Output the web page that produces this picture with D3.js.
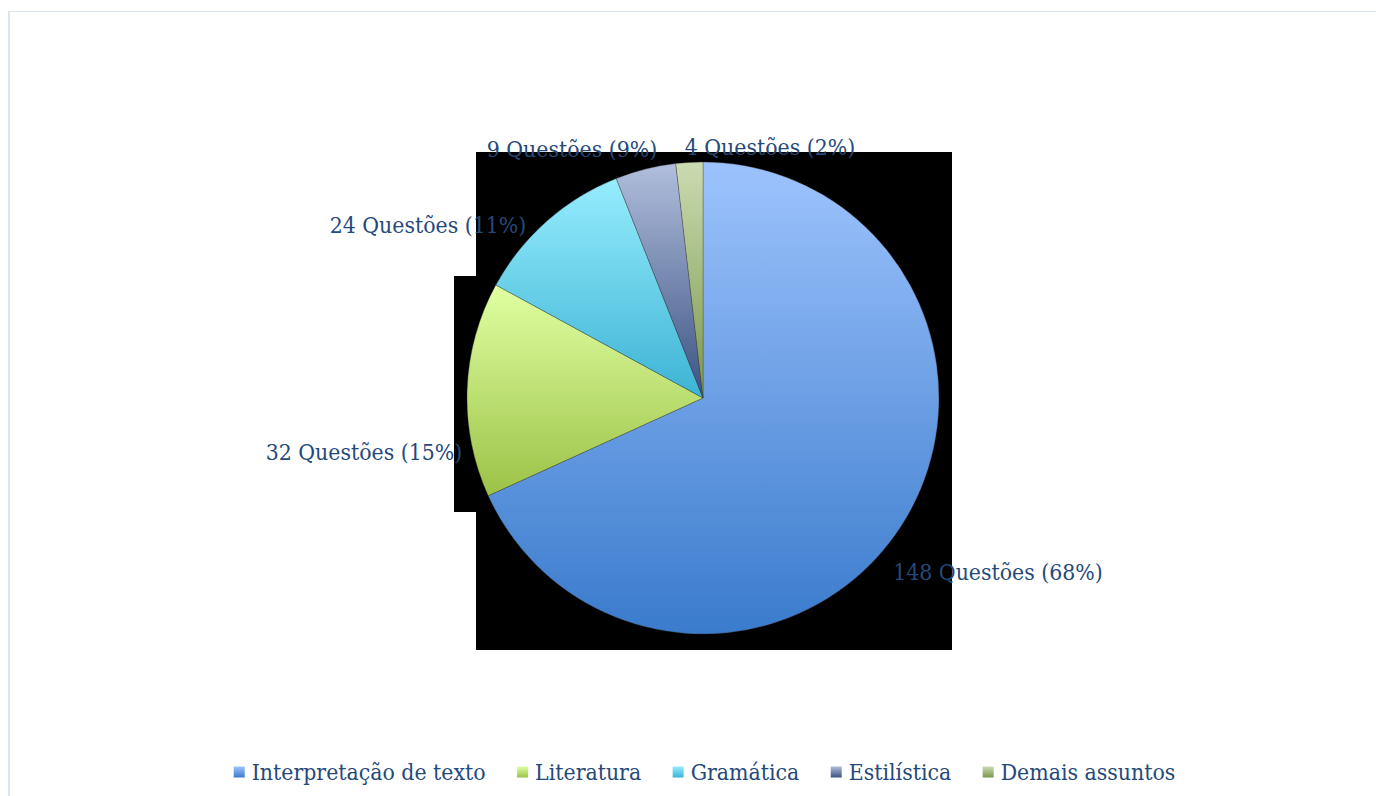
<!DOCTYPE html>
<html>
<head>
<meta charset="utf-8">
<script src="https://cdn.jsdelivr.net/npm/d3@7"></script>
<style>
  html, body { margin: 0; padding: 0; background: #fff; }
  #chart { width: 1376px; height: 796px; }
  .lbl { font-family: "DejaVu Serif Condensed", "DejaVu Serif", serif; font-stretch: condensed; fill: #25497a; }
</style>
</head>
<body>
<div id="chart"></div>
<script>
// data
const categories = ["Interpretação de texto", "Literatura", "Gramática", "Estilística", "Demais assuntos"];
const questions = [148, 32, 24, 9, 4];
const percentLabels = ["68%", "15%", "11%", "9%", "2%"];
const topColors = ["#9dc3fd", "#e0ffa2", "#96edfe", "#b1bedc", "#cbdbb2"];
const bottomColors = ["#3a7bcc", "#9cc247", "#3db3d4", "#3c5283", "#7a984c"];

window.addEventListener("load", function () {

    const width = 1376, height = 796;
    const cx = 703, cy = 398, radius = 236;
    const fontSize = 22.8;

    const svg = d3.select("#chart").append("svg")
        .attr("width", width)
        .attr("height", height);

    // chart area frame (left + top edge only visible)
    svg.append("line").attr("x1", 9).attr("x2", 9).attr("y1", 11).attr("y2", height)
        .attr("stroke", "#dbe4ef").attr("stroke-width", 2);
    svg.append("line").attr("x1", 8).attr("x2", width).attr("y1", 11.5).attr("y2", 11.5)
        .attr("stroke", "#dde5ec").attr("stroke-width", 1);

    const g = svg.append("g").attr("transform", `translate(${cx},${cy})`);

    // black background blocks behind the pie (as rendered in the original)
    g.append("rect").attr("x", -249).attr("y", -122)
        .attr("width", 24).attr("height", 236).attr("fill", "#000");
    g.append("rect").attr("x", -227).attr("y", -246)
        .attr("width", 476).attr("height", 498).attr("fill", "#000");

    const defs = svg.append("defs");
    categories.forEach((c, i) => {
        const grad = defs.append("linearGradient")
            .attr("id", "grad" + i)
            .attr("x1", 0).attr("y1", 0).attr("x2", 0).attr("y2", 1);
        grad.append("stop").attr("offset", "0%").attr("stop-color", topColors[i]);
        grad.append("stop").attr("offset", "100%").attr("stop-color", bottomColors[i]);
    });

    const pie = d3.pie().sort(null).value(d => d);
    const arcs = pie(questions);
    const arc = d3.arc().innerRadius(0).outerRadius(radius);

    g.selectAll(".slice")
        .data(arcs)
        .enter()
        .append("path")
        .attr("class", "slice")
        .attr("d", arc)
        .attr("fill", (d, i) => `url(#grad${i})`)
        .attr("stroke", "rgba(60,60,60,0.45)")
        .attr("stroke-width", 0.75);

    // label placement relative to pie centre (Excel best-fit positions)
    const labelOffset = [[295, 182], [-339, 62], [-275, -165], [-131, -241], [67, -243]];

    g.selectAll(".lbl")
        .data(arcs)
        .enter()
        .append("text")
        .attr("class", "lbl")
        .attr("font-size", fontSize)
        .attr("text-anchor", "middle")
        .attr("x", (d, i) => labelOffset[i][0])
        .attr("y", (d, i) => labelOffset[i][1])
        .text((d, i) => `${questions[i]} Questões (${percentLabels[i]})`);

    // legend
    const legend = svg.append("g");
    const sq = 11, gapText = 7, gapItem = 31.5;
    let xPos = 0;
    categories.forEach((c, i) => {
        const it = legend.append("g");
        it.append("rect").attr("x", 0).attr("y", -sq / 2 - 1).attr("width", sq).attr("height", sq)
            .attr("fill", `url(#grad${i})`);
        const t = it.append("text").attr("class", "lbl")
            .attr("font-size", fontSize)
            .attr("x", sq + gapText).attr("y", 7)
            .text(c);
        const w = sq + gapText + t.node().getComputedTextLength();
        it.attr("transform", `translate(${xPos},0)`);
        xPos += w + gapItem;
    });
    const total = xPos - gapItem;
    legend.attr("transform", `translate(${cx + 1.5 - total / 2},773)`);
});
</script>
</body>
</html>
